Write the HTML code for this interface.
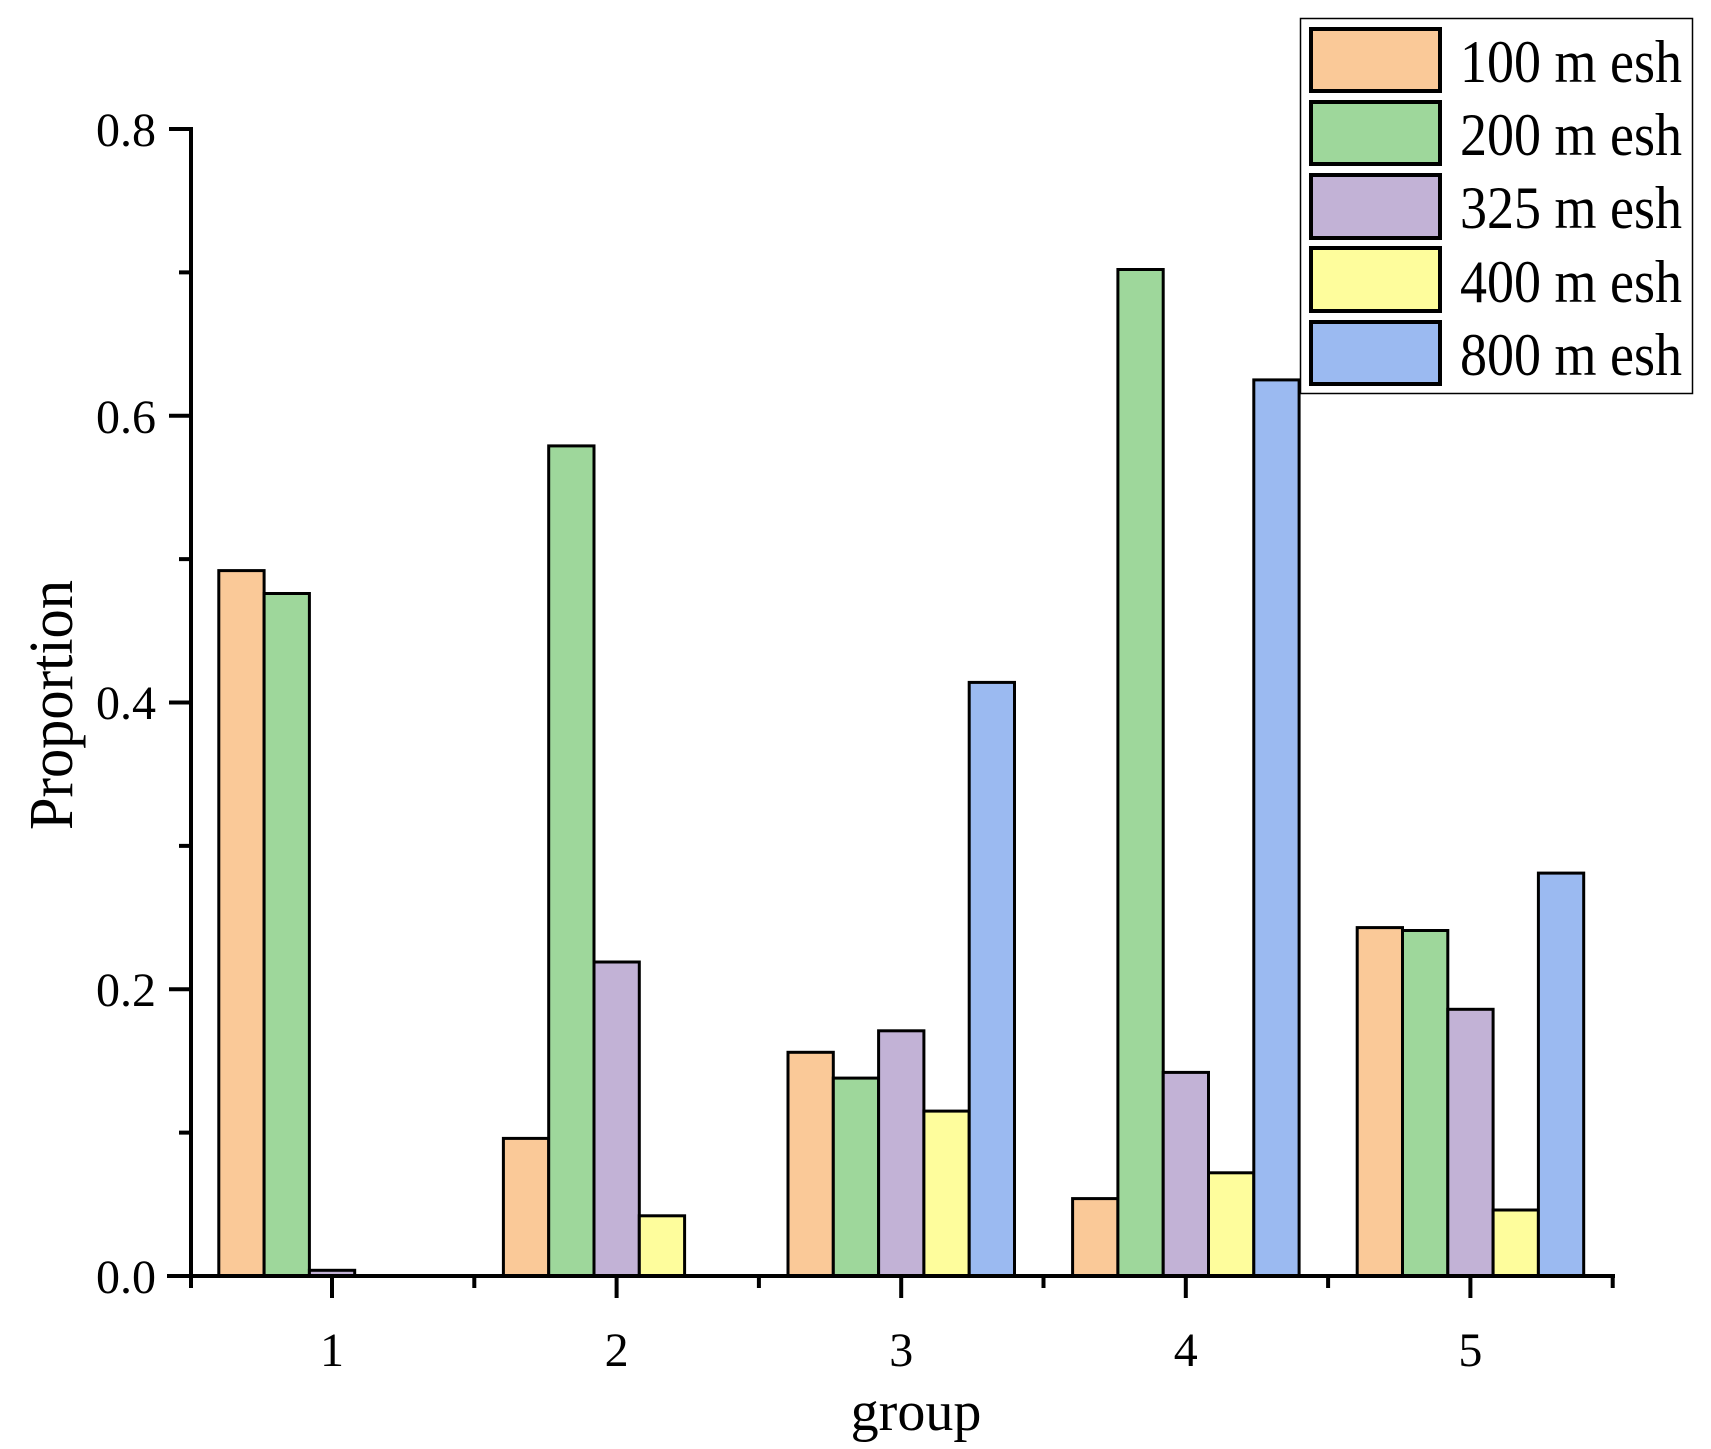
<!DOCTYPE html>
<html><head><meta charset="utf-8"><style>html,body{margin:0;padding:0;background:#fff}svg{display:block}</style></head>
<body>
<svg width="1711" height="1449" viewBox="0 0 1711 1449" xmlns="http://www.w3.org/2000/svg" font-family="'Liberation Serif', serif">
<g stroke="#000" stroke-width="3">
<rect x="218.8" y="570.6" width="45.3" height="705.4" fill="#FAC998"/>
<rect x="264.1" y="593.5" width="45.3" height="682.5" fill="#9ED79B"/>
<rect x="309.4" y="1270.3" width="45.3" height="5.7" fill="#C2B2D6"/>
<rect x="503.4" y="1138.4" width="45.3" height="137.6" fill="#FAC998"/>
<rect x="548.7" y="445.9" width="45.3" height="830.1" fill="#9ED79B"/>
<rect x="594.0" y="962" width="45.3" height="314" fill="#C2B2D6"/>
<rect x="639.3" y="1215.8" width="45.3" height="60.2" fill="#FEFD9C"/>
<rect x="788.0" y="1052.3" width="45.3" height="223.7" fill="#FAC998"/>
<rect x="833.3" y="1078.1" width="45.3" height="197.9" fill="#9ED79B"/>
<rect x="878.6" y="1030.8" width="45.3" height="245.2" fill="#C2B2D6"/>
<rect x="923.9" y="1111.1" width="45.3" height="164.9" fill="#FEFD9C"/>
<rect x="969.2" y="682.4" width="45.3" height="593.6" fill="#9BBAF1"/>
<rect x="1072.6" y="1198.6" width="45.3" height="77.4" fill="#FAC998"/>
<rect x="1117.9" y="269.5" width="45.3" height="1006.5" fill="#9ED79B"/>
<rect x="1163.2" y="1072.4" width="45.3" height="203.6" fill="#C2B2D6"/>
<rect x="1208.5" y="1172.8" width="45.3" height="103.2" fill="#FEFD9C"/>
<rect x="1253.8" y="379.9" width="45.3" height="896.1" fill="#9BBAF1"/>
<rect x="1357.2" y="927.6" width="45.3" height="348.4" fill="#FAC998"/>
<rect x="1402.5" y="930.5" width="45.3" height="345.5" fill="#9ED79B"/>
<rect x="1447.8" y="1009.3" width="45.3" height="266.7" fill="#C2B2D6"/>
<rect x="1493.1" y="1210" width="45.3" height="66" fill="#FEFD9C"/>
<rect x="1538.4" y="873.1" width="45.3" height="402.9" fill="#9BBAF1"/>
</g>
<g stroke="#000" stroke-width="4" fill="none">
<path d="M191 127 V1278 M167 1276 H1615"/>
<path d="M169 129 H191 M169 415.75 H191 M169 702.5 H191 M169 989.25 H191 M179 272.4 H191 M179 559.1 H191 M179 845.9 H191 M179 1132.6 H191"/>
<path d="M332 1276 V1298 M616.6 1276 V1298 M901.2 1276 V1298 M1185.8 1276 V1298 M1470.4 1276 V1298"/>
<path d="M191 1276 V1288 M474.3 1276 V1288 M758.9 1276 V1288 M1043.5 1276 V1288 M1328.1 1276 V1288 M1612.7 1276 V1288"/>
</g>
<g font-size="48" fill="#000" text-anchor="end">
<text x="156" y="146">0.8</text>
<text x="156" y="433">0.6</text>
<text x="156" y="719">0.4</text>
<text x="156" y="1006">0.2</text>
<text x="156" y="1293">0.0</text>
</g>
<g font-size="48" fill="#000" text-anchor="middle">
<text x="332" y="1366">1</text>
<text x="616.6" y="1366">2</text>
<text x="901.2" y="1366">3</text>
<text x="1185.8" y="1366">4</text>
<text x="1470.4" y="1366">5</text>
</g>
<text x="916" y="1430" font-size="56" text-anchor="middle" fill="#000">group</text>
<text transform="translate(72,705) rotate(-90)" font-size="62" text-anchor="middle" fill="#000" textLength="250" lengthAdjust="spacingAndGlyphs">Proportion</text>
<rect x="1300.5" y="18.5" width="392" height="375" fill="#fff" stroke="#000" stroke-width="1.5"/>
<g stroke="#000" stroke-width="4">
<rect x="1311" y="29" width="129" height="62" fill="#FAC998"/>
<rect x="1311" y="102" width="129" height="62" fill="#9ED79B"/>
<rect x="1311" y="175" width="129" height="63" fill="#C2B2D6"/>
<rect x="1311" y="248" width="129" height="63" fill="#FEFD9C"/>
<rect x="1311" y="322" width="129" height="62" fill="#9BBAF1"/>
</g>
<g font-size="60" fill="#000">
<text x="1460" y="82" textLength="222" lengthAdjust="spacingAndGlyphs">100 m esh</text>
<text x="1460" y="155" textLength="222" lengthAdjust="spacingAndGlyphs">200 m esh</text>
<text x="1460" y="228" textLength="222" lengthAdjust="spacingAndGlyphs">325 m esh</text>
<text x="1460" y="302" textLength="222" lengthAdjust="spacingAndGlyphs">400 m esh</text>
<text x="1460" y="375" textLength="222" lengthAdjust="spacingAndGlyphs">800 m esh</text>
</g>
</svg>
</body></html>
